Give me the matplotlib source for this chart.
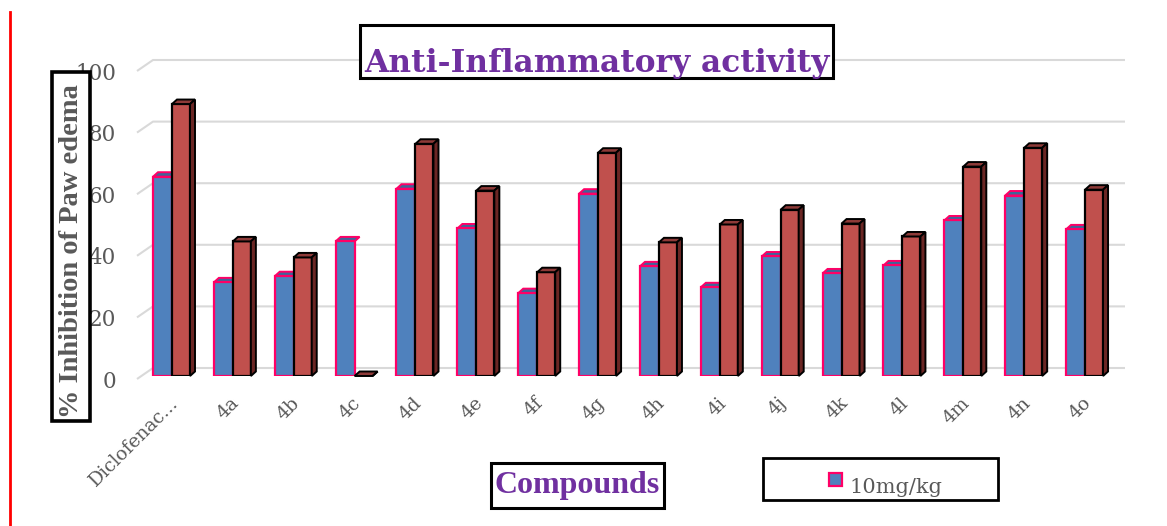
import matplotlib
matplotlib.use("Agg")
import matplotlib.pyplot as plt
import matplotlib.transforms as mtransforms
from matplotlib.patches import Polygon, Rectangle
import numpy as np

categories = ["Diclofenac...", "4a", "4b", "4c", "4d", "4e", "4f", "4g", "4h", "4i",
              "4j", "4k", "4l", "4m", "4n", "4o"]
dose10 = [64.7, 30.4, 32.4, 43.7, 60.8, 47.9, 26.9, 59.2, 35.6, 28.8,
          38.8, 33.3, 35.9, 50.5, 58.6, 47.6]
dose20 = [88.3, 43.7, 38.5, 0.0, 75.4, 60.2, 33.7, 72.5, 43.4, 49.2,
          54.0, 49.5, 45.3, 68.0, 74.1, 60.5]
yticks = [0, 20, 40, 60, 80, 100]
legend_label = "10mg/kg"

W, H = 1167, 526
fig = plt.figure(figsize=(W / 100, H / 100), dpi=100)
fig.patch.set_facecolor("white")


def fx(px):
    return px / W


def fy(py):
    return 1 - py / H


ax_left, ax_right = 130, 1130
y0_px, y100_px = 376, 68
ax = fig.add_axes([fx(ax_left), fy(y0_px), (ax_right - ax_left) / W, (y0_px - y100_px) / H])
px_x = 60.87  # px per category unit
xmin = -(172 - ax_left) / px_x
ax.set_xlim(xmin, xmin + (ax_right - ax_left) / px_x)
ax.set_ylim(0, 100)
px_y = (y0_px - y100_px) / 100.0
for s in ax.spines.values():
    s.set_visible(False)
ax.patch.set_alpha(0)

# back-wall gridlines with 3D floor diagonal
gx_left = xmin + (137 - ax_left) / px_x
gdx = 16 / px_x
front_off = -3 / px_y
back_off = 8 / px_y
gx_right = xmin + (1125 - ax_left) / px_x
for v in yticks:
    ax.plot([gx_left, gx_left + gdx, gx_right], [v + front_off, v + back_off, v + back_off],
            color="#D9D9D9", lw=1.5, zorder=0, clip_on=False, solid_capstyle="butt")

blue, blue_top, pink = "#4F81BD", "#3E659A", "#FF0066"
red, red_top, red_side = "#C0504D", "#8E3A38", "#6B2624"
wb = 19 / px_x
wr = 18 / px_x
ddx = 5 / px_x
ddy = 4.5 / px_y

x = np.arange(len(categories))
ax.bar(x - wb, dose10, width=wb, align="edge", color=blue, edgecolor=pink, lw=1.6, zorder=2)
ax.bar(x, dose20, width=wr, align="edge", color=red, edgecolor="black", lw=1.6, zorder=3)
for i, (b, r) in enumerate(zip(dose10, dose20)):
    xi = x[i]
    ax.add_patch(Polygon([(xi - wb, b), (xi - wb + ddx, b + ddy), (xi + ddx, b + ddy), (xi, b)],
                         closed=True, fc=blue_top, ec=pink, lw=1.4, zorder=1.9, clip_on=False))
    ax.add_patch(Polygon([(xi, r), (xi + ddx, r + ddy), (xi + wr + ddx, r + ddy), (xi + wr, r)],
                         closed=True, fc=red_top, ec="black", lw=1.4, zorder=3.1, clip_on=False))
    ax.add_patch(Polygon([(xi + wr, 0), (xi + wr + ddx, ddy), (xi + wr + ddx, r + ddy), (xi + wr, r)],
                         closed=True, fc=red_side, ec="black", lw=1.4, zorder=3.1, clip_on=False))

grey = "#595959"
ax.set_yticks(yticks)
ax.set_yticklabels([str(t) for t in yticks], fontsize=15.5, color=grey, family="DejaVu Serif")
ax.tick_params(axis="y", length=0, pad=10)
shift = mtransforms.ScaledTranslation(0, -3 / 100, fig.dpi_scale_trans)
for lab in ax.get_yticklabels():
    lab.set_transform(lab.get_transform() + shift)
ax.set_xticks(x - 0.05)
ax.set_xticklabels(categories, rotation=45, ha="right", va="top", rotation_mode="anchor",
                   fontsize=13.5, color=grey, family="DejaVu Serif")
ax.tick_params(axis="x", length=0, pad=13)

purple = "#7030A0"


def framed(x0, y0, x1, y1, lw=2.2):
    fig.add_artist(Rectangle((fx(x0), fy(y1)), (x1 - x0) / W, (y1 - y0) / H,
                             transform=fig.transFigure, fc="white", ec="black", lw=lw, zorder=5))


framed(360, 25, 833, 78)
fig.text(fx(597), fy(72), "Anti-Inflammatory activity", ha="center", va="baseline",
         fontsize=22.5, fontweight="bold", color=purple, family="DejaVu Serif", zorder=6)

framed(491, 463, 664, 508)
fig.text(fx(577), fy(493), "Compounds", ha="center", va="baseline",
         fontsize=23, fontweight="bold", color=purple, family="Liberation Serif", zorder=6)

framed(52, 72, 90, 421, lw=2.6)
fig.text(fx(72), fy(251), "% Inhibition of Paw edema", ha="center", va="center",
         rotation=90, fontsize=20.5, fontweight="bold", color=grey, family="Liberation Serif", zorder=6)

# legend
framed(763, 458, 998, 500, lw=2)
fig.add_artist(Rectangle((fx(829), fy(486)), 13 / W, 13 / H, transform=fig.transFigure,
                         fc=blue, ec=pink, lw=1.6, zorder=6))
fig.text(fx(849), fy(493), legend_label, ha="left", va="baseline", fontsize=15,
         color=grey, family="DejaVu Serif", zorder=6)

# red vertical line at left
fig.add_artist(plt.Line2D([fx(10), fx(10)], [0, fy(12)], color="#FF0000", lw=2,
                          transform=fig.transFigure))

fig.savefig("out.png", dpi=100)
